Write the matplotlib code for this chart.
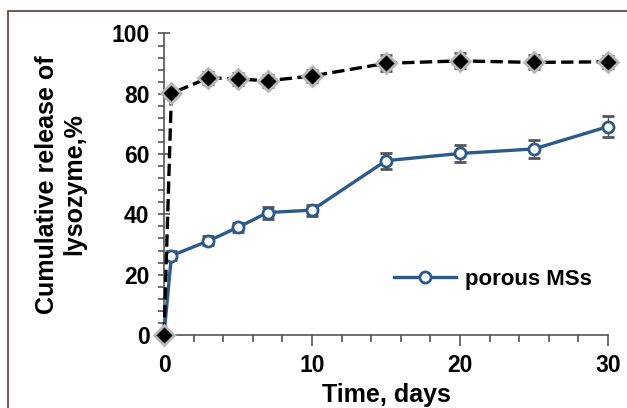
import matplotlib.pyplot as plt
from matplotlib.ticker import MultipleLocator
from matplotlib.patches import Rectangle
from matplotlib.lines import Line2D

# time points, days
days = [0, 0.5, 3, 5, 7, 10, 15, 20, 25, 30]

# dense MSs (black diamonds, dashed)
dense = [0, 80.1, 85.3, 84.9, 84.3, 85.9, 90.1, 90.9, 90.4, 90.6]
dense_err = [0, 1.5, 2.0, 2.0, 2.0, 2.0, 2.6, 2.5, 2.3, 2.0]

# porous MSs (open circles, blue)
porous = [0, 26.3, 31.2, 35.7, 40.6, 41.4, 57.8, 60.2, 61.7, 69.1]
porous_err = [0, 1.5, 1.5, 1.5, 2.0, 1.8, 2.6, 2.8, 2.9, 3.5]

plt.rcParams['font.family'] = ['Liberation Sans', 'DejaVu Sans']
plt.rcParams['font.weight'] = 'bold'

fig = plt.figure(figsize=(6.27, 4.08), dpi=100)
ax = fig.add_axes([0.2616, 0.179, 0.708, 0.739])

blue = '#2b5b8a'

ax.errorbar(days, porous, yerr=porous_err, color=blue, ls='-', lw=2.4,
            marker='o', ms=8, mfc='white', mec=blue, mew=2,
            markevery=list(range(1, len(days))),
            ecolor='#555555', elinewidth=1, capsize=4, clip_on=False, zorder=3)
ax.errorbar(days, dense, yerr=dense_err, color='black', ls='--', lw=2.4,
            marker='D', ms=10, mfc='black', mec='#b8b8b8', mew=2,
            ecolor='#555555', elinewidth=1, capsize=4, clip_on=False, zorder=4)

ax.set_xlim(0, 30)
ax.set_ylim(0, 100)
ax.xaxis.set_major_locator(MultipleLocator(10))
ax.xaxis.set_minor_locator(MultipleLocator(2))
ax.yaxis.set_major_locator(MultipleLocator(20))
ax.yaxis.set_minor_locator(MultipleLocator(4))

for s in ['top', 'right']:
    ax.spines[s].set_visible(False)
for s in ['left', 'bottom']:
    ax.spines[s].set_color('#555555')
    ax.spines[s].set_linewidth(1.2)

ax.tick_params(axis='x', which='major', direction='out', length=8, width=1.2,
               color='#555555', labelsize=16.5, pad=6)
ax.tick_params(axis='x', which='minor', direction='out', length=5, width=1.2,
               color='#555555')
ax.tick_params(axis='y', which='major', direction='inout', length=9, width=1.2,
               color='#555555', labelsize=16.5, pad=6)
ax.tick_params(axis='y', which='minor', direction='out', length=4, width=1.2,
               color='#555555')

ax.set_xlabel('Time, days', fontsize=18, fontweight='bold', labelpad=4)
ax.set_ylabel('Cumulative release of\nlysozyme,%', fontsize=18,
              fontweight='bold', labelpad=18, linespacing=1.15)

handle = Line2D([], [], color=blue, lw=2.4, marker='o', ms=8, mfc='white',
                mec=blue, mew=2)
ax.legend([handle], ['porous MSs'], loc='center left',
          bbox_to_anchor=(0.518, 0.185), frameon=False, fontsize=16,
          handlelength=2.8, handletextpad=0.4, borderpad=0, borderaxespad=0)

# thin frame around the figure (cut at the right and bottom)
fig.patches.append(Rectangle((8 / 627, -0.05), 1.0, 1 - 11 / 408 + 0.05,
                             transform=fig.transFigure, fill=False,
                             edgecolor='#5a3a3a', lw=1.2))

fig.savefig('out.png', dpi=100)
